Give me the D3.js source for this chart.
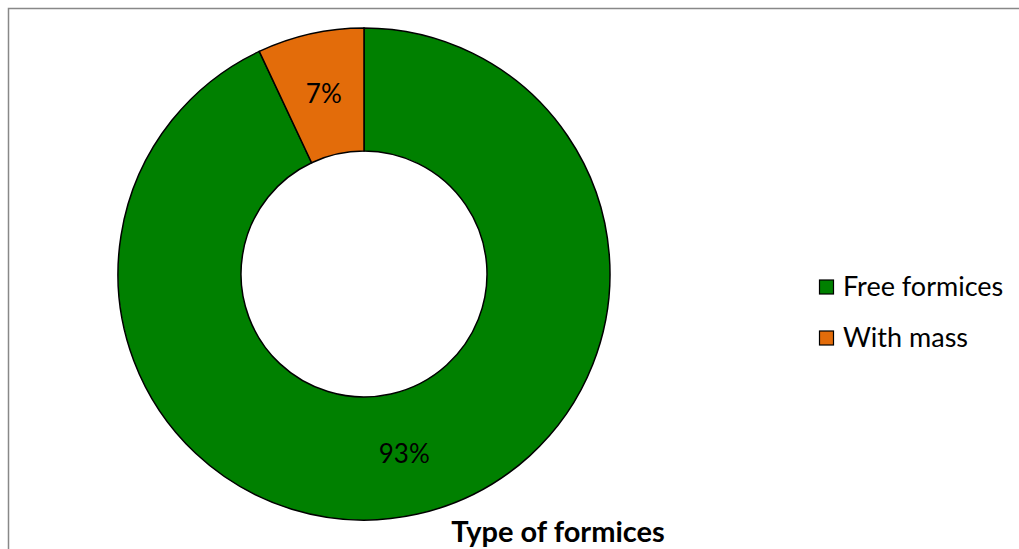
<!DOCTYPE html>
<html>
<head>
<meta charset="utf-8">
<script src="https://cdn.jsdelivr.net/npm/d3@7"></script>
<style>
  body { margin: 0; background: #fff; }
  svg text { font-family: Lato, "Open Sans", sans-serif; }
</style>
</head>
<body>
<svg id="chart" width="1019" height="549"></svg>
<script>
// 데이터
const labels = ["Free formices", "With mass"];
const values = [93, 7];
const colors = ["#008000", "#E36C0A"];
const title = "Type of formices";

const svg = d3.select("#chart");

// 차트 테두리
svg.append("rect")
    .attr("x", 8.5).attr("y", 8.5)
    .attr("width", 1030).attr("height", 560)
    .attr("fill", "none")
    .attr("stroke", "#888")
    .attr("stroke-width", 1.5);

const cx = 364, cy = 274;
const outerR = 246, innerR = 123;

const g = svg.append("g").attr("transform", `translate(${cx},${cy})`);

const pie = d3.pie().sort(null).value(d => d.value);
const arc = d3.arc().innerRadius(innerR).outerRadius(outerR);

const data = labels.map((l, i) => ({ label: l, value: values[i], color: colors[i] }));
const arcs = pie(data);

g.selectAll("path")
    .data(arcs)
    .enter()
    .append("path")
    .attr("d", arc)
    .attr("fill", d => d.data.color)
    .attr("stroke", "#000")
    .attr("stroke-width", 1.5);

// 퍼센트 레이블
const total = d3.sum(values);
g.selectAll(".pct")
    .data(arcs)
    .enter()
    .append("text")
    .attr("class", "pct")
    .attr("x", d => arc.centroid(d)[0])
    .attr("y", d => arc.centroid(d)[1])
    .attr("dy", "0.35em")
    .attr("text-anchor", "middle")
    .style("font-size", "26px")
    .attr("fill", "#000")
    .text(d => `${Math.round(d.data.value / total * 100)}%`);

// 범례
const legend = svg.append("g").attr("transform", "translate(819,287)");
const items = legend.selectAll("g")
    .data(data)
    .enter()
    .append("g")
    .attr("transform", (d, i) => `translate(0,${i * 51})`);

items.append("rect")
    .attr("x", 0.5).attr("y", -7)
    .attr("width", 14).attr("height", 14)
    .attr("fill", d => d.color)
    .attr("stroke", "#000")
    .attr("stroke-width", 1.2);

items.append("text")
    .attr("x", 24)
    .attr("dy", "0.35em")
    .style("font-size", "27px")
    .text(d => d.label);

// 제목
svg.append("text")
    .attr("x", 558).attr("y", 542)
    .attr("text-anchor", "middle")
    .style("font-size", "29px")
    .style("font-weight", "bold")
    .text(title);
</script>
</body>
</html>
